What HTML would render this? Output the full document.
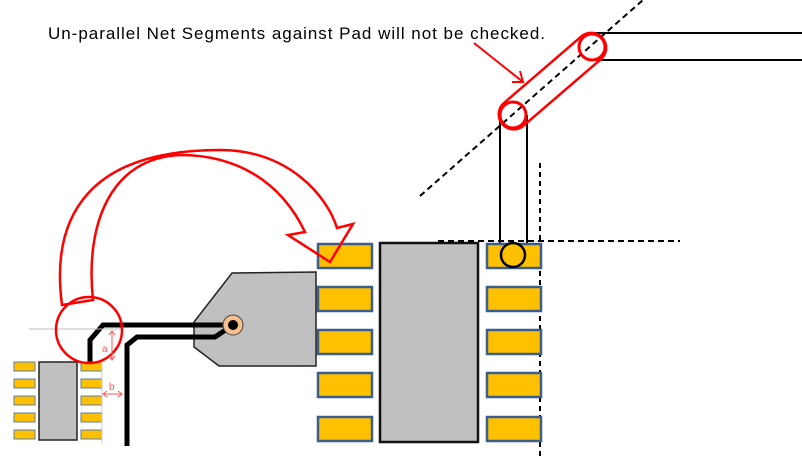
<!DOCTYPE html>
<html><head><meta charset="utf-8"><style>
body{margin:0;background:#fff;width:802px;height:457px;overflow:hidden}
svg{display:block}
</style></head><body>
<svg width="802" height="457" viewBox="0 0 802 457" xmlns="http://www.w3.org/2000/svg">
<text x="48" y="39" font-family="Liberation Sans, sans-serif" font-size="17" fill="#000" textLength="497" lengthAdjust="spacing">Un-parallel Net Segments against Pad will not be checked.</text>
<!-- top right lines -->
<line x1="420" y1="196" x2="643" y2="0" stroke="#000" stroke-width="2" stroke-dasharray="6,4"/>
<line x1="590" y1="33" x2="802" y2="33" stroke="#000" stroke-width="2"/>
<line x1="590" y1="60" x2="802" y2="60" stroke="#000" stroke-width="2"/>
<line x1="500" y1="115" x2="500" y2="255" stroke="#000" stroke-width="2"/>
<line x1="527" y1="115" x2="527" y2="255" stroke="#000" stroke-width="2"/>
<line x1="540" y1="163" x2="540" y2="457" stroke="#000" stroke-width="2" stroke-dasharray="5,4"/>
<line x1="438" y1="241" x2="680" y2="241" stroke="#000" stroke-width="2" stroke-dasharray="6,4"/>
<!-- red capsule -->
<g transform="translate(513,115) rotate(-40.7)">
<rect x="-14" y="-15" width="132" height="30" rx="15" fill="none" stroke="#f00" stroke-width="2.5"/>
</g>
<circle cx="592" cy="47" r="13" fill="none" stroke="#f00" stroke-width="3"/>
<circle cx="513" cy="115" r="13" fill="none" stroke="#f00" stroke-width="3"/>
<line x1="474" y1="43" x2="523" y2="82" stroke="#f00" stroke-width="2"/>
<polyline points="512,82 523,82 520,71" fill="none" stroke="#f00" stroke-width="2"/>
<!-- big chip -->
<rect x="380" y="243" width="98" height="199" fill="#c0c0c0" stroke="#111" stroke-width="2.5"/>
<g fill="#ffc000" stroke="#3a5f8f" stroke-width="2.5">
<rect x="318" y="244" width="54" height="24"/><rect x="318" y="287" width="54" height="24"/><rect x="318" y="330" width="54" height="24"/><rect x="318" y="373" width="54" height="24"/><rect x="318" y="417" width="54" height="24"/>
<rect x="487" y="244" width="54" height="24"/><rect x="487" y="287" width="54" height="24"/><rect x="487" y="330" width="54" height="24"/><rect x="487" y="373" width="54" height="24"/><rect x="487" y="417" width="54" height="24"/>
</g>
<circle cx="513" cy="255" r="12" fill="#ffc000" stroke="#000" stroke-width="2.5"/>
<!-- gray polygon -->
<polygon points="232,273 316,272 316,366 219,366 194,347 194,322" fill="#c0c0c0" stroke="#222" stroke-width="1.5"/>
<!-- traces -->
<polyline points="90,362 90,340 103,325 233,325" fill="none" stroke="#000" stroke-width="5"/>
<polyline points="127,446 127,345 137,337 215,337 233,325" fill="none" stroke="#000" stroke-width="5"/>
<circle cx="233" cy="325" r="10" fill="#f7c08a" stroke="#444" stroke-width="1"/>
<circle cx="233" cy="325" r="5" fill="#000"/>
<!-- small chip -->
<line x1="29" y1="329" x2="122" y2="329" stroke="#bbb" stroke-width="1"/>
<rect x="39" y="362" width="38" height="78" fill="#c0c0c0" stroke="#222" stroke-width="1.5"/>
<g fill="#ffc000" stroke="#5a7fa8" stroke-width="1">
<rect x="14" y="362" width="21" height="9"/><rect x="14" y="379" width="21" height="9"/><rect x="14" y="396" width="21" height="9"/><rect x="14" y="413" width="21" height="9"/><rect x="14" y="430" width="21" height="9"/>
<rect x="81" y="362" width="21" height="9"/><rect x="81" y="379" width="21" height="9"/><rect x="81" y="396" width="21" height="9"/><rect x="81" y="413" width="21" height="9"/><rect x="81" y="430" width="21" height="9"/>
</g>
<line x1="102" y1="362" x2="102" y2="444" stroke="#ccc" stroke-width="1"/>
<circle cx="89" cy="330" r="33" fill="none" stroke="#f00" stroke-width="2.5"/>
<line x1="112" y1="331" x2="112" y2="360" stroke="#f55" stroke-width="1"/>
<polyline points="109,335 112,331 115,335" fill="none" stroke="#f55"/>
<polyline points="109,356 112,360 115,356" fill="none" stroke="#f55"/>
<text x="102" y="352" font-family="Liberation Sans, sans-serif" font-size="10" fill="#f55">a</text>
<line x1="103" y1="394" x2="122" y2="394" stroke="#f55" stroke-width="1"/>
<polyline points="107,391 103,394 107,397" fill="none" stroke="#f55"/>
<polyline points="118,391 122,394 118,397" fill="none" stroke="#f55"/>
<text x="109" y="390" font-family="Liberation Sans, sans-serif" font-size="10" fill="#f55">b</text>
<!-- curved arrow -->
<path d="M62,305 C50,215 90,150 220,150 C290,150 328,198 337,228 L353,224 L330,262 L288,235 L305,232 C280,180 235,155 180,155 C110,158 85,225 93,300 Z" fill="none" stroke="#f00" stroke-width="2.5" stroke-linejoin="miter"/>
</svg>
</body></html>
